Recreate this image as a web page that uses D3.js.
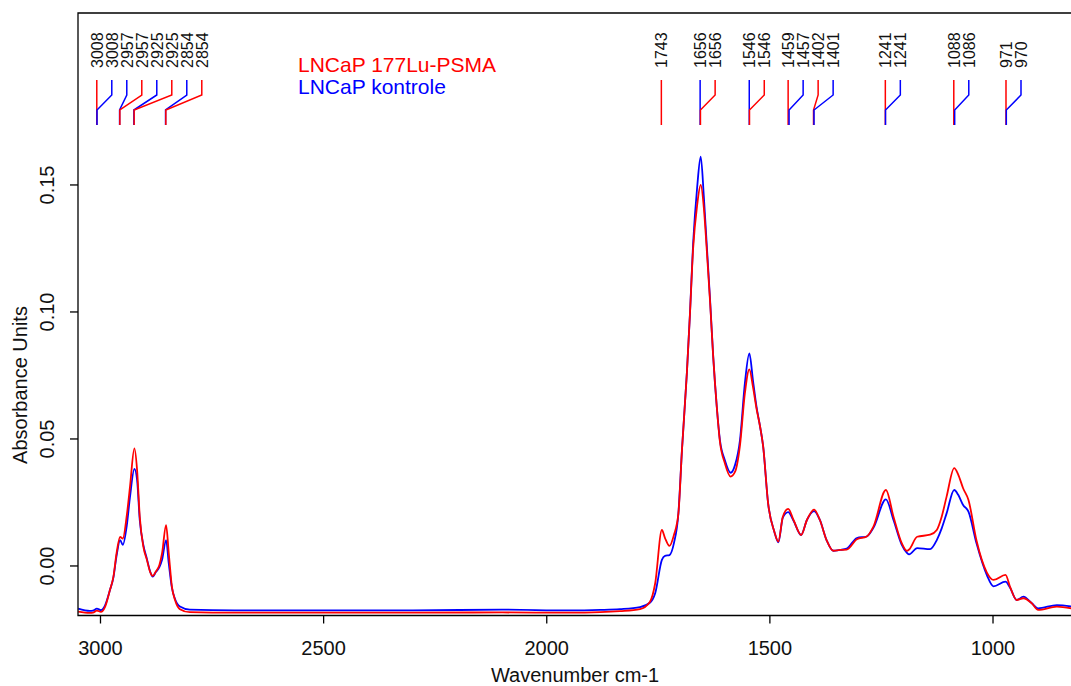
<!DOCTYPE html>
<html lang="en">
<head>
  <meta charset="UTF-8">
  <title>LNCaP FTIR</title>
  <script src="https://cdn.jsdelivr.net/npm/d3@7/dist/d3.min.js"></script>
  <style>
    body { margin: 0; background: #fff; }
    svg text { font-family: "Liberation Sans", Arial, sans-serif; }
  </style>
</head>
<body>
<div id="chart"></div>
<script>
// values
const wavenumbers = [
  3050, 3024, 3017, 3008, 2999, 2990, 2979, 2971, 2964, 2956, 2950, 2941, 2934, 2924, 2918, 2912,
  2904, 2896, 2889, 2883, 2876, 2868, 2862, 2853, 2847, 2840, 2833, 2822, 2800, 2700, 2500, 2300,
  2100, 1950, 1880, 1836, 1791, 1769, 1757, 1742, 1735, 1725, 1715, 1705, 1697, 1686, 1679, 1672,
  1663, 1655, 1648, 1642, 1634, 1627, 1619, 1612, 1601, 1588, 1578, 1567, 1556, 1546, 1538, 1530,
  1522, 1515, 1504, 1490, 1481, 1471, 1459, 1447, 1430, 1417, 1401, 1388, 1373, 1358, 1343, 1328,
  1305, 1283, 1268, 1240, 1223, 1205, 1193, 1188, 1170, 1141, 1126, 1115, 1104, 1087, 1078, 1067,
  1055, 1037, 1014, 999, 972, 962, 947, 932, 913, 899, 857, 823
];

// LNCaP 177Lu-PSMA
const treated = [
  -0.0180, -0.0185, -0.0184, -0.0176, -0.0181, -0.0162, -0.0096, -0.0042, 0.0050, 0.0114, 0.0108, 0.0200, 0.0310, 0.0463, 0.0378, 0.0194,
  0.0076, 0.0024, -0.0022, -0.0039, -0.0022, 0.0004, 0.0050, 0.0161, 0.0050, -0.0081, -0.0134, -0.0170, -0.0182, -0.0184, -0.0184, -0.0184,
  -0.0183, -0.0184, -0.0182, -0.0178, -0.0170, -0.0142, -0.0068, 0.0142, 0.0110, 0.0079, 0.0122, 0.0207, 0.0457, 0.0760, 0.0996, 0.1250,
  0.1420, 0.1500, 0.1410, 0.1260, 0.1040, 0.0824, 0.0627, 0.0490, 0.0405, 0.0352, 0.0371, 0.0475, 0.0680, 0.0774, 0.0706, 0.0620,
  0.0549, 0.0470, 0.0247, 0.0135, 0.0096, 0.0194, 0.0225, 0.0181, 0.0122, 0.0181, 0.0222, 0.0181, 0.0102, 0.0060, 0.0063, 0.0064,
  0.0105, 0.0116, 0.0155, 0.0299, 0.0194, 0.0092, 0.0060, 0.0065, 0.0115, 0.0123, 0.0142, 0.0194, 0.0273, 0.0385, 0.0360, 0.0306,
  0.0260, 0.0100, -0.0025, -0.0055, -0.0035, -0.0081, -0.0134, -0.0127, -0.0147, -0.0173, -0.0160, -0.0167
];

// LNCaP kontrole
const control = [
  -0.0168, -0.0177, -0.0176, -0.0168, -0.0174, -0.0156, -0.0096, -0.0045, 0.0040, 0.0102, 0.0083, 0.0160, 0.0270, 0.0382, 0.0339, 0.0180,
  0.0083, 0.0028, -0.0020, -0.0042, -0.0024, -0.0005, 0.0024, 0.0102, 0.0010, -0.0085, -0.0130, -0.0160, -0.0172, -0.0175, -0.0175, -0.0175,
  -0.0172, -0.0175, -0.0173, -0.0170, -0.0162, -0.0145, -0.0107, 0.0024, 0.0040, 0.0043, 0.0090, 0.0207, 0.0457, 0.0760, 0.0996, 0.1270,
  0.1490, 0.1611, 0.1454, 0.1280, 0.1047, 0.0824, 0.0627, 0.0496, 0.0417, 0.0367, 0.0398, 0.0496, 0.0720, 0.0837, 0.0732, 0.0627,
  0.0549, 0.0470, 0.0247, 0.0135, 0.0093, 0.0190, 0.0212, 0.0178, 0.0122, 0.0181, 0.0216, 0.0181, 0.0102, 0.0060, 0.0063, 0.0068,
  0.0110, 0.0116, 0.0150, 0.0262, 0.0181, 0.0085, 0.0052, 0.0046, 0.0070, 0.0066, 0.0102, 0.0148, 0.0207, 0.0299, 0.0280, 0.0240,
  0.0214, 0.0089, -0.0035, -0.0080, -0.0062, -0.0085, -0.0134, -0.0121, -0.0147, -0.0167, -0.0154, -0.0160
];

// picked peaks (labels show rounded values)
const treatedPeaks = [3008.3, 2956.6, 2924.6, 2853.6, 1743.2, 1655.6, 1545.7, 1459.1, 1402.2, 1241.3, 1087.9, 970.9];
const controlPeaks = [3007.8, 2957.2, 2925.2, 2854.2, 1656.3, 1546.2, 1457.0, 1401.1, 1240.9, 1085.9, 970.2];

const seriesNames = ["LNCaP 177Lu-PSMA", "LNCaP kontrole"];
const xTicks = [3000, 2500, 2000, 1500, 1000];
const yTicks = [0, 0.05, 0.10, 0.15];

const width = 1071, height = 686;
const margin = { top: 13, left: 78, bottom: 615.5, right: 1072 };
const colors = ["#ff0000", "#0000ff"];

const svg = d3.select("#chart").append("svg")
  .attr("width", width)
  .attr("height", height);

const x = d3.scaleLinear()
  .domain([3050.4, 823])
  .range([margin.left, margin.right]);

const y = d3.scaleLinear()
  .domain([-0.0195, 0.2177])
  .range([margin.bottom, margin.top]);

svg.append("clipPath").attr("id", "clip")
  .append("rect")
  .attr("x", margin.left).attr("y", margin.top)
  .attr("width", margin.right - margin.left)
  .attr("height", margin.bottom - margin.top);

// spectra: control first, treated on top
const line = d3.line()
  .x(d => x(d[0]))
  .y(d => y(d[1]))
  .curve(d3.curveMonotoneX);

const series = [
  { name: seriesNames[1], values: control, color: colors[1] },
  { name: seriesNames[0], values: treated, color: colors[0] }
];

svg.append("g")
  .attr("clip-path", "url(#clip)")
  .selectAll("path")
  .data(series)
  .enter()
  .append("path")
  .attr("d", s => line(wavenumbers.map((w, i) => [w, s.values[i]])))
  .attr("fill", "none")
  .attr("stroke", s => s.color)
  .attr("stroke-width", 1.8)
  .attr("stroke-linejoin", "round");

// frame (right side falls outside the window)
svg.append("path")
  .attr("d", `M${margin.right},${margin.top}H${margin.left}V${margin.bottom}H${margin.right}`)
  .attr("fill", "none")
  .attr("stroke", "#000")
  .attr("stroke-width", 1.3);

// x axis
const xAxisG = svg.append("g").attr("transform", `translate(0,${margin.bottom})`);
xAxisG.selectAll("line")
  .data(xTicks)
  .enter()
  .append("line")
  .attr("x1", d => x(d)).attr("x2", d => x(d))
  .attr("y1", 0).attr("y2", 8)
  .attr("stroke", "#000")
  .attr("stroke-width", 1.3);
xAxisG.selectAll("text")
  .data(xTicks)
  .enter()
  .append("text")
  .attr("x", d => x(d))
  .attr("y", 39)
  .attr("text-anchor", "middle")
  .attr("font-size", 20)
  .attr("fill", "#111")
  .text(d => d);

// y axis
const yAxisG = svg.append("g");
yAxisG.selectAll("line")
  .data(yTicks)
  .enter()
  .append("line")
  .attr("x1", margin.left - 8).attr("x2", margin.left)
  .attr("y1", d => y(d)).attr("y2", d => y(d))
  .attr("stroke", "#000")
  .attr("stroke-width", 1.3);
yAxisG.selectAll("text")
  .data(yTicks)
  .enter()
  .append("text")
  .attr("transform", d => `translate(54,${y(d)}) rotate(-90)`)
  .attr("text-anchor", "middle")
  .attr("font-size", 20)
  .attr("fill", "#111")
  .text(d => d3.format(".2f")(d));

svg.append("text")
  .attr("x", 575)
  .attr("y", 682)
  .attr("text-anchor", "middle")
  .attr("font-size", 20)
  .attr("fill", "#111")
  .text("Wavenumber cm-1");

svg.append("text")
  .attr("transform", "translate(27,385) rotate(-90)")
  .attr("text-anchor", "middle")
  .attr("font-size", 20)
  .attr("fill", "#111")
  .text("Absorbance Units");

// legend
svg.selectAll("text.legend")
  .data(seriesNames)
  .enter()
  .append("text")
  .attr("class", "legend")
  .attr("x", 298)
  .attr("y", (d, i) => 72 + i * 22)
  .attr("font-size", 21)
  .attr("fill", (d, i) => colors[i])
  .text(d => d);

// peak labels: spread so they don't overlap, then a kinked leader to the peak
const peaks = treatedPeaks.map(w => ({ w, color: colors[0] }))
  .concat(controlPeaks.map(w => ({ w, color: colors[1] })))
  .sort((a, b) => b.w - a.w);

const gap = 15;
let prev = -Infinity;
peaks.forEach(p => {
  p.px = x(p.w);
  p.lx = Math.max(p.px, prev + gap);
  prev = p.lx;
});

const peakG = svg.append("g");
peakG.selectAll("path")
  .data(peaks)
  .enter()
  .append("path")
  .attr("d", p => `M${p.lx},80V95L${p.px},110V125`)
  .attr("fill", "none")
  .attr("stroke", p => p.color)
  .attr("stroke-width", 1.5);
peakG.selectAll("text")
  .data(peaks)
  .enter()
  .append("text")
  .attr("transform", p => `translate(${p.lx + 6},68) rotate(-90)`)
  .attr("font-size", 16)
  .attr("fill", "#111")
  .text(p => Math.round(p.w));
</script>
</body>
</html>
